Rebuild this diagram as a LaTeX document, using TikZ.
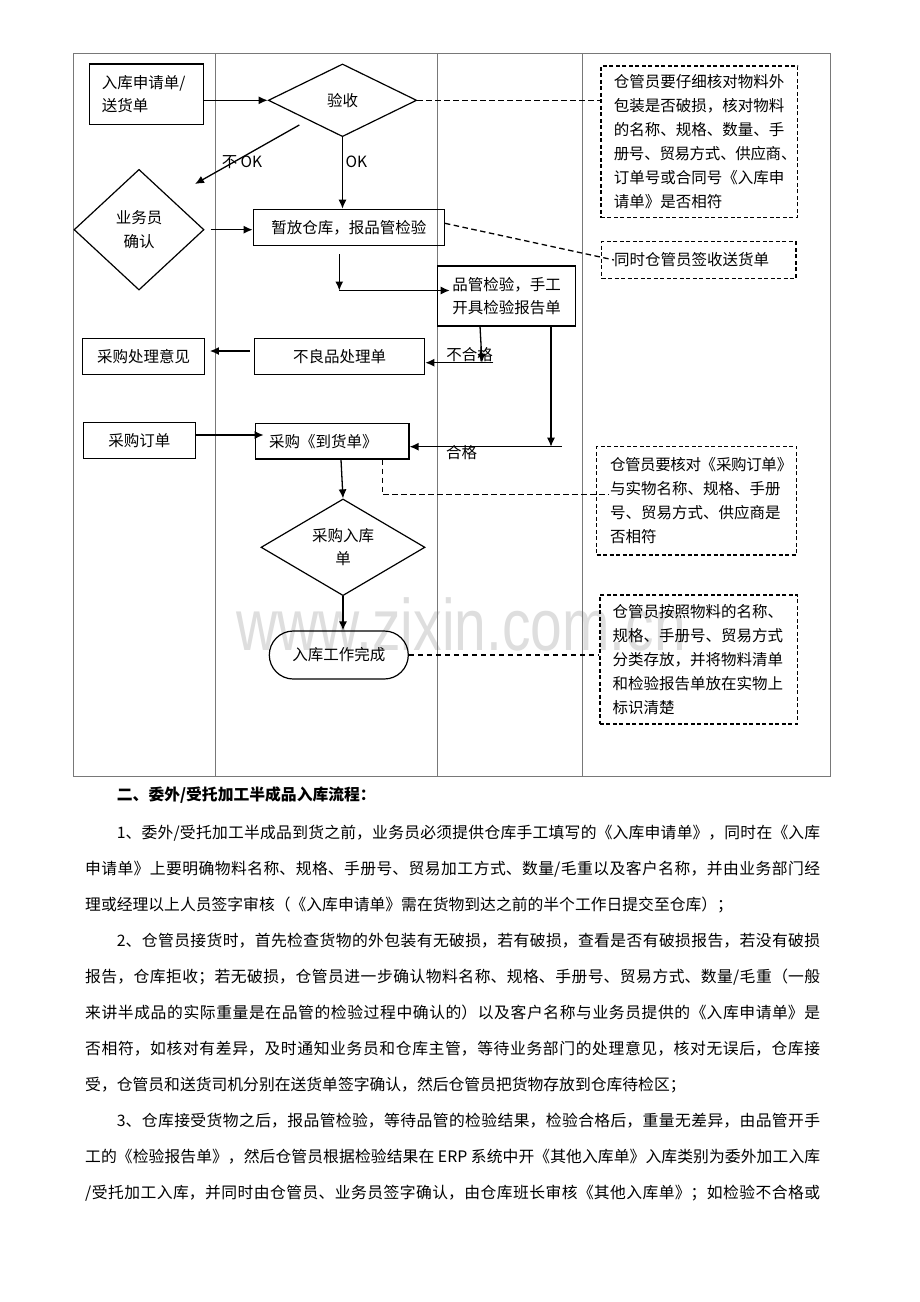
\documentclass[tikz,border=0pt]{standalone}
\usepackage{fontspec}
\usepackage{graphicx}
\setmainfont{Noto Sans CJK SC}
\newfontfamily\wmfont{Liberation Sans}
\usetikzlibrary{shapes.geometric,arrows.meta,calc}
\XeTeXlinebreaklocale "zh"
\XeTeXlinebreakskip=0pt plus 2pt minus 0.4pt
\XeTeXlinebreakpenalty=10000
\definecolor{framegray}{RGB}{120,120,120}
\definecolor{wmgray}{RGB}{222,222,222}
\newcommand\dgfont{\fontsize{15.5}{23.4}\selectfont}
\newcommand\ntfont{\fontsize{15.5}{24}\selectfont}
\newcommand\bdfont{\fontsize{15.8}{20}\selectfont}
\newcommand\jline[2]{\parbox{#1}{\parfillskip=0pt\relax #2}}
\begin{document}
\begin{tikzpicture}[x=1pt,y=-1pt,
  frameline/.style={draw=framegray,line width=1pt},
  box/.style={draw,line width=1.2pt,rectangle,inner sep=0pt,font=\dgfont,align=center},
  dia/.style={draw,diamond,line width=1.2pt,inner sep=0pt,font=\dgfont,align=center},
  nbox/.style={draw,line width=1.2pt,dash pattern=on 4pt off 2.5pt,rectangle,inner sep=0pt,font=\ntfont,align=left},
  arr/.style={line width=1.3pt,-{Latex[length=9pt,width=8pt]}},
  dline/.style={line width=1.3pt,dash pattern=on 5.5pt off 3.5pt},
  lbl/.style={inner sep=0pt,font=\dgfont},
  body/.style={anchor=west,inner sep=0pt,font=\bdfont}]
\useasboundingbox[fill=white] (0,0) rectangle (920,1302);

% watermark
\node[anchor=base west,inner sep=0pt,text=wmgray,font=\wmfont\fontsize{57}{57}\selectfont] (wm) at (236,650) {\scalebox{1}[1.28]{www.zixin.com.cn}};

% swimlane frame
\draw[frameline] (73,53) rectangle (830,776);
\draw[frameline] (215,53) -- (215,776);
\draw[frameline] (437,53) -- (437,776);
\draw[frameline] (582,53) -- (582,776);

% nodes
\node[box,minimum width=114pt,minimum height=60.7pt,text width=89pt,align=left] (in1) at (146.3,94.3) {入库申请单/\\送货单};
\node[dia,minimum width=148.4pt,minimum height=72.7pt,shape aspect=2] (ys) at (342.5,100.3) {验收};
\node[dia,minimum width=130pt,minimum height=120.7pt] (yw) at (139,229.7) {业务员\\确认};
\node[box,minimum width=191pt,minimum height=36pt] (zf) at (348.8,227.3) {暂放仓库，报品管检验};
\node[box,minimum width=138.4pt,minimum height=60pt] (pg) at (506.5,296) {品管检验，手工\\开具检验报告单};
\node[box,minimum width=170.4pt,minimum height=36pt] (bl) at (339.5,356.3) {不良品处理单};
\node[box,minimum width=121.6pt,minimum height=35.6pt] (cg) at (143.5,356.5) {采购处理意见};
\node[box,minimum width=112pt,minimum height=36pt] (dd) at (139.3,440.7) {采购订单};
\node[box,minimum width=153.3pt,minimum height=35.7pt,text width=126.6pt,align=left] (dh) at (332.3,441.2) {采购《到货单》};
\node[dia,minimum width=164pt,minimum height=96.7pt,shape aspect=1.7] (rk) at (343,547.3) {采购入库\\单};
\node[box,rounded corners=24pt,minimum width=139pt,minimum height=48pt] (wc) at (338.8,655) {入库工作完成};

% notes
\node[nbox,minimum width=196.7pt,minimum height=151.7pt,text width=171pt] (n1) at (699.3,141.8)
  {仓管员要仔细核对物料外\\包装是否破损，核对物料\\的名称、规格、数量、手\\册号、贸易方式、供应商、\\订单号或合同号《入库申\\请单》是否相符};
\node[nbox,minimum width=194.3pt,minimum height=36.6pt,text width=169.6pt] (n2) at (698.8,260) {同时仓管员签收送货单};
\node[nbox,minimum width=200pt,minimum height=108.3pt,text width=173.4pt] (n3) at (696.7,500.8)
  {仓管员要核对《采购订单》\\与实物名称、规格、手册\\号、贸易方式、供应商是\\否相符};
\node[nbox,minimum width=197.7pt,minimum height=129pt,text width=172.2pt] (n4) at (698.8,659.5)
  {仓管员按照物料的名称、\\规格、手册号、贸易方式\\分类存放，并将物料清单\\和检验报告单放在实物上\\标识清楚};

% free-end coordinates
\coordinate (nok1) at (299.3,125);
\coordinate (nok2) at (195,184);
\coordinate (c1) at (339.3,254);
\coordinate (c2) at (339.3,290.5);
\coordinate (c3) at (480,326);
\coordinate (c4) at (482,362.7);
\coordinate (c5) at (493.3,362.7);
\coordinate (c6) at (551,326);
\coordinate (c7) at (551,446.7);
\coordinate (c8) at (561.7,446.7);

% connectors
\draw[arr] (ys.west -| in1.east) -- (ys.west);
\draw[arr] (nok1) -- (nok2);
\draw[arr] (ys.south) -- (ys.south |- zf.north);
\draw[arr] ($(yw.east)+(6,0)$) -- (zf.west |- yw.east);
\draw[dline] (ys.east) -- (n1.west |- ys.east);
\draw[dline] ($(zf.east)+(0,-4)$) -- ($(n2.west)+(13,0)$);
\draw[arr] (c1) -- (c2);
\draw[arr] (c2) -- ($(pg.west |- c2)+(13,0)$);
\draw[arr] (c3) -- (c4);
\draw[arr] (c5) -- (bl.east |- c5);
\draw[arr] ($(bl.west)+(-4,-5.3)$) -- ($(cg.east)+(5,-5.5)$);
\draw[arr] (c6) -- (c7);
\draw[arr] (c8) -- (dh.east |- c8);
\draw[arr] ($(dd.east)+(0,-5.7)$) -- ($(dh.west)+(8.6,-6.2)$);
\draw[arr] ($(dh.south)+(8.7,0)$) -- (rk.north);
\draw[dline] ($(dh.south)+(50,0)$) |- ($(n3.west)+(13.3,-6)$);
\draw[arr] (rk.south) -- (rk.south |- wc.north);
\draw[dline] (wc.east) -- (n4.west |- wc.east);

% connector labels
\node[lbl] (lnok) at (242,162) {不 OK};
\node[lbl] (lok) at (356.5,162) {OK};
\node[lbl] (lbhg) at (469.5,355) {不合格};
\node[lbl] (lhg) at (461.5,452.7) {合格};

% body text
\node[body,font=\bdfont\bfseries] (t0) at (116.7,795) {二、委外/受托加工半成品入库流程：};
\node[body] (l1) at (116.7,833) {\jline{703.3pt}{1、委外/受托加工半成品到货之前，业务员必须提供仓库手工填写的《入库申请单》，同时在《入库}};
\node[body] (l2) at (85,869) {\jline{735pt}{申请单》上要明确物料名称、规格、手册号、贸易加工方式、数量/毛重以及客户名称，并由业务部门经}};
\node[body] (l3) at (85,905) {理或经理以上人员签字审核（《入库申请单》需在货物到达之前的半个工作日提交至仓库）；};
\node[body] (l4) at (116.7,941) {\jline{703.3pt}{2、仓管员接货时，首先检查货物的外包装有无破损，若有破损，查看是否有破损报告，若没有破损}};
\node[body] (l5) at (85,977) {\jline{735pt}{报告，仓库拒收；若无破损，仓管员进一步确认物料名称、规格、手册号、贸易方式、数量/毛重（一般}};
\node[body] (l6) at (85,1012) {\jline{735pt}{来讲半成品的实际重量是在品管的检验过程中确认的）以及客户名称与业务员提供的《入库申请单》是}};
\node[body] (l7) at (85,1049) {\jline{735pt}{否相符，如核对有差异，及时通知业务员和仓库主管，等待业务部门的处理意见，核对无误后，仓库接}};
\node[body] (l8) at (85,1085) {受，仓管员和送货司机分别在送货单签字确认，然后仓管员把货物存放到仓库待检区；};
\node[body] (l9) at (116.7,1121) {\jline{703.3pt}{3、仓库接受货物之后，报品管检验，等待品管的检验结果，检验合格后，重量无差异，由品管开手}};
\node[body] (l10) at (85,1157) {\jline{735pt}{工的《检验报告单》，然后仓管员根据检验结果在~ERP~系统中开《其他入库单》入库类别为委外加工入库}};
\node[body] (l11) at (85,1193) {\jline{735pt}{/受托加工入库，并同时由仓管员、业务员签字确认，由仓库班长审核《其他入库单》；如检验不合格或}};
\end{tikzpicture}
\end{document}
